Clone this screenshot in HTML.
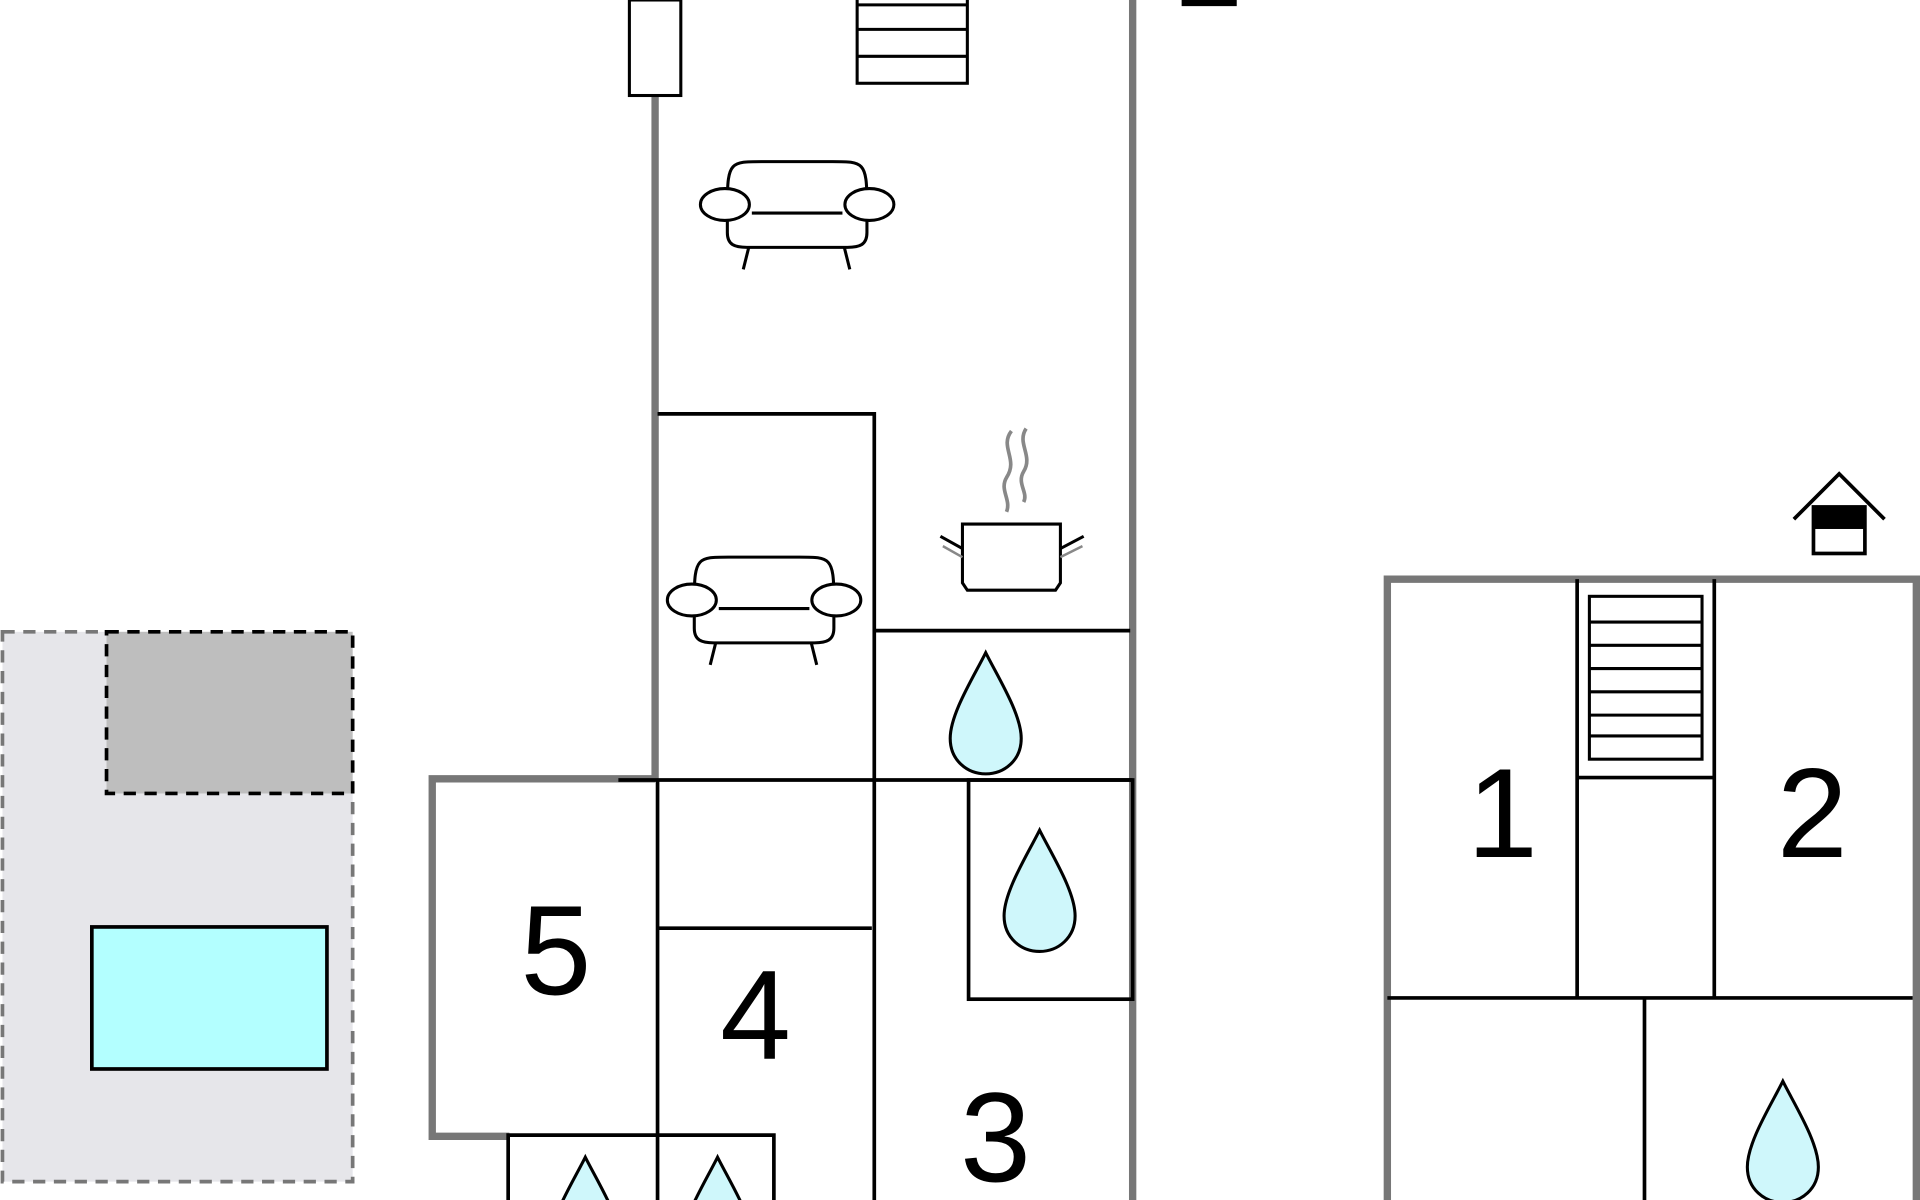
<!DOCTYPE html>
<html><head><style>html,body{margin:0;padding:0;background:#fff;overflow:hidden;width:1920px;height:1200px}svg{display:block}</style></head>
<body>
<svg width="1920" height="1200" viewBox="0 0 1568 980" xmlns="http://www.w3.org/2000/svg" font-family="Liberation Sans, sans-serif">
<defs>
<clipPath id="c"><rect x="0" y="0" width="1568" height="980"/></clipPath>
<g id="drop"><path d="M0,0 C-10,20 -29,50 -29,70 C-29,88 -15,99 0,99 C15,99 29,88 29,70 C29,50 10,20 0,0 Z" fill="#cff7fb" stroke="#000" stroke-width="2.5"/></g>
<g id="sofa" fill="#fff" stroke="#000" stroke-width="2.5">
<line x1="40" y1="68" x2="35" y2="88"/><line x1="117" y1="68" x2="122" y2="88"/>
<path d="M22,34 C22,0 25,0 50,0 L108,0 C133,0 136,0 136,34 L136,58 C136,68 130,70 120,70 L38,70 C28,70 22,68 22,58 Z"/>
<line x1="42" y1="42" x2="116" y2="42"/>
<ellipse cx="20" cy="35" rx="20" ry="13"/><ellipse cx="138" cy="35" rx="20" ry="13"/>
</g>
</defs>
<g clip-path="url(#c)">
<rect x="2" y="516" width="286" height="449" fill="#e6e6ea" stroke="#777" stroke-width="3" stroke-dasharray="10,7"/>
<rect x="87" y="516" width="201" height="132" fill="#bebebe" stroke="#000" stroke-width="3" stroke-dasharray="10,7"/>
<rect x="75" y="757" width="192" height="116" fill="#b3ffff" stroke="#000" stroke-width="3"/>
<g stroke="#777" stroke-width="6" fill="none">
<line x1="535" y1="78" x2="535" y2="636"/>
<line x1="925" y1="0" x2="925" y2="980"/>
<polyline points="535,636 353,636 353,928 416,928"/>
</g>
<rect x="514" y="0" width="42" height="78" fill="#fff" stroke="#000" stroke-width="2.5"/>
<g fill="#fff" stroke="#000" stroke-width="2.5"><rect x="700" y="-2" width="90" height="70"/><line x1="700" y1="4" x2="790" y2="4"/><line x1="700" y1="24" x2="790" y2="24"/><line x1="700" y1="46" x2="790" y2="46"/></g>
<rect x="965" y="0" width="45" height="5" fill="#000"/>
<use href="#sofa" x="572" y="132"/>
<use href="#sofa" x="545" y="455"/>
<g stroke="#000" stroke-width="3" fill="none">
<polyline points="537,338 714,338 714,980"/>
<line x1="714" y1="515" x2="923" y2="515"/>
<line x1="505" y1="637" x2="925" y2="637"/>
<line x1="537" y1="637" x2="537" y2="980"/>
<line x1="537" y1="758" x2="712" y2="758"/>
<rect x="791" y="637" width="134" height="179"/>
<polyline points="415,980 415,927 632,927 632,980"/>
</g>
<g stroke="#888" stroke-width="3" fill="none"><path d="M826,352 C816,365 832,375 822,390 C816,400 826,408 822,418"/><path d="M838,350 C830,362 844,372 836,385 C830,395 840,402 836,410"/></g>
<g stroke="#000" stroke-width="2.5" fill="#fff">
<path d="M786,428 L866,428 L866,476 L862,482 L790,482 L786,476 Z"/>
<line x1="786" y1="448" x2="768" y2="438"/><line x1="866" y1="448" x2="885" y2="438"/>
</g>
<g stroke="#888" stroke-width="2" fill="none"><line x1="786" y1="455" x2="770" y2="446"/><line x1="866" y1="455" x2="884" y2="446"/></g>
<use href="#drop" x="805" y="533"/>
<use href="#drop" x="849" y="678"/>
<use href="#drop" x="478" y="945"/>
<use href="#drop" x="586" y="945"/>
<g font-size="104" fill="#000" text-anchor="middle">
<text x="454" y="812">5</text><text x="617" y="865">4</text><text x="813" y="965">3</text>
<text x="1227" y="700">1</text><text x="1480" y="700">2</text>
</g>
<g stroke="#777" stroke-width="6" fill="none">
<polyline points="1133,980 1133,473 1568,473"/>
<line x1="1565" y1="473" x2="1565" y2="980"/>
</g>
<g stroke="#000" stroke-width="3" fill="none">
<line x1="1288" y1="473" x2="1288" y2="815"/><line x1="1400" y1="473" x2="1400" y2="815"/>
<line x1="1288" y1="635" x2="1400" y2="635"/>
<line x1="1133" y1="815" x2="1562" y2="815"/>
<line x1="1343" y1="815" x2="1343" y2="980"/>
</g>
<g stroke="#000" stroke-width="2.5" fill="#fff">
<rect x="1298" y="487" width="92" height="133"/>
<line x1="1298" y1="508" x2="1390" y2="508"/><line x1="1298" y1="527" x2="1390" y2="527"/>
<line x1="1298" y1="546" x2="1390" y2="546"/><line x1="1298" y1="565" x2="1390" y2="565"/>
<line x1="1298" y1="584" x2="1390" y2="584"/><line x1="1298" y1="601" x2="1390" y2="601"/>
</g>
<use href="#drop" x="1456" y="883"/>
<g stroke="#000" stroke-width="3" fill="none"><polyline points="1465,424 1502,387 1539,424"/>
<rect x="1481" y="414" width="42" height="38" fill="#fff"/></g>
<rect x="1481" y="414" width="42" height="18" fill="#000"/>
</g>
</svg>
</body></html>
